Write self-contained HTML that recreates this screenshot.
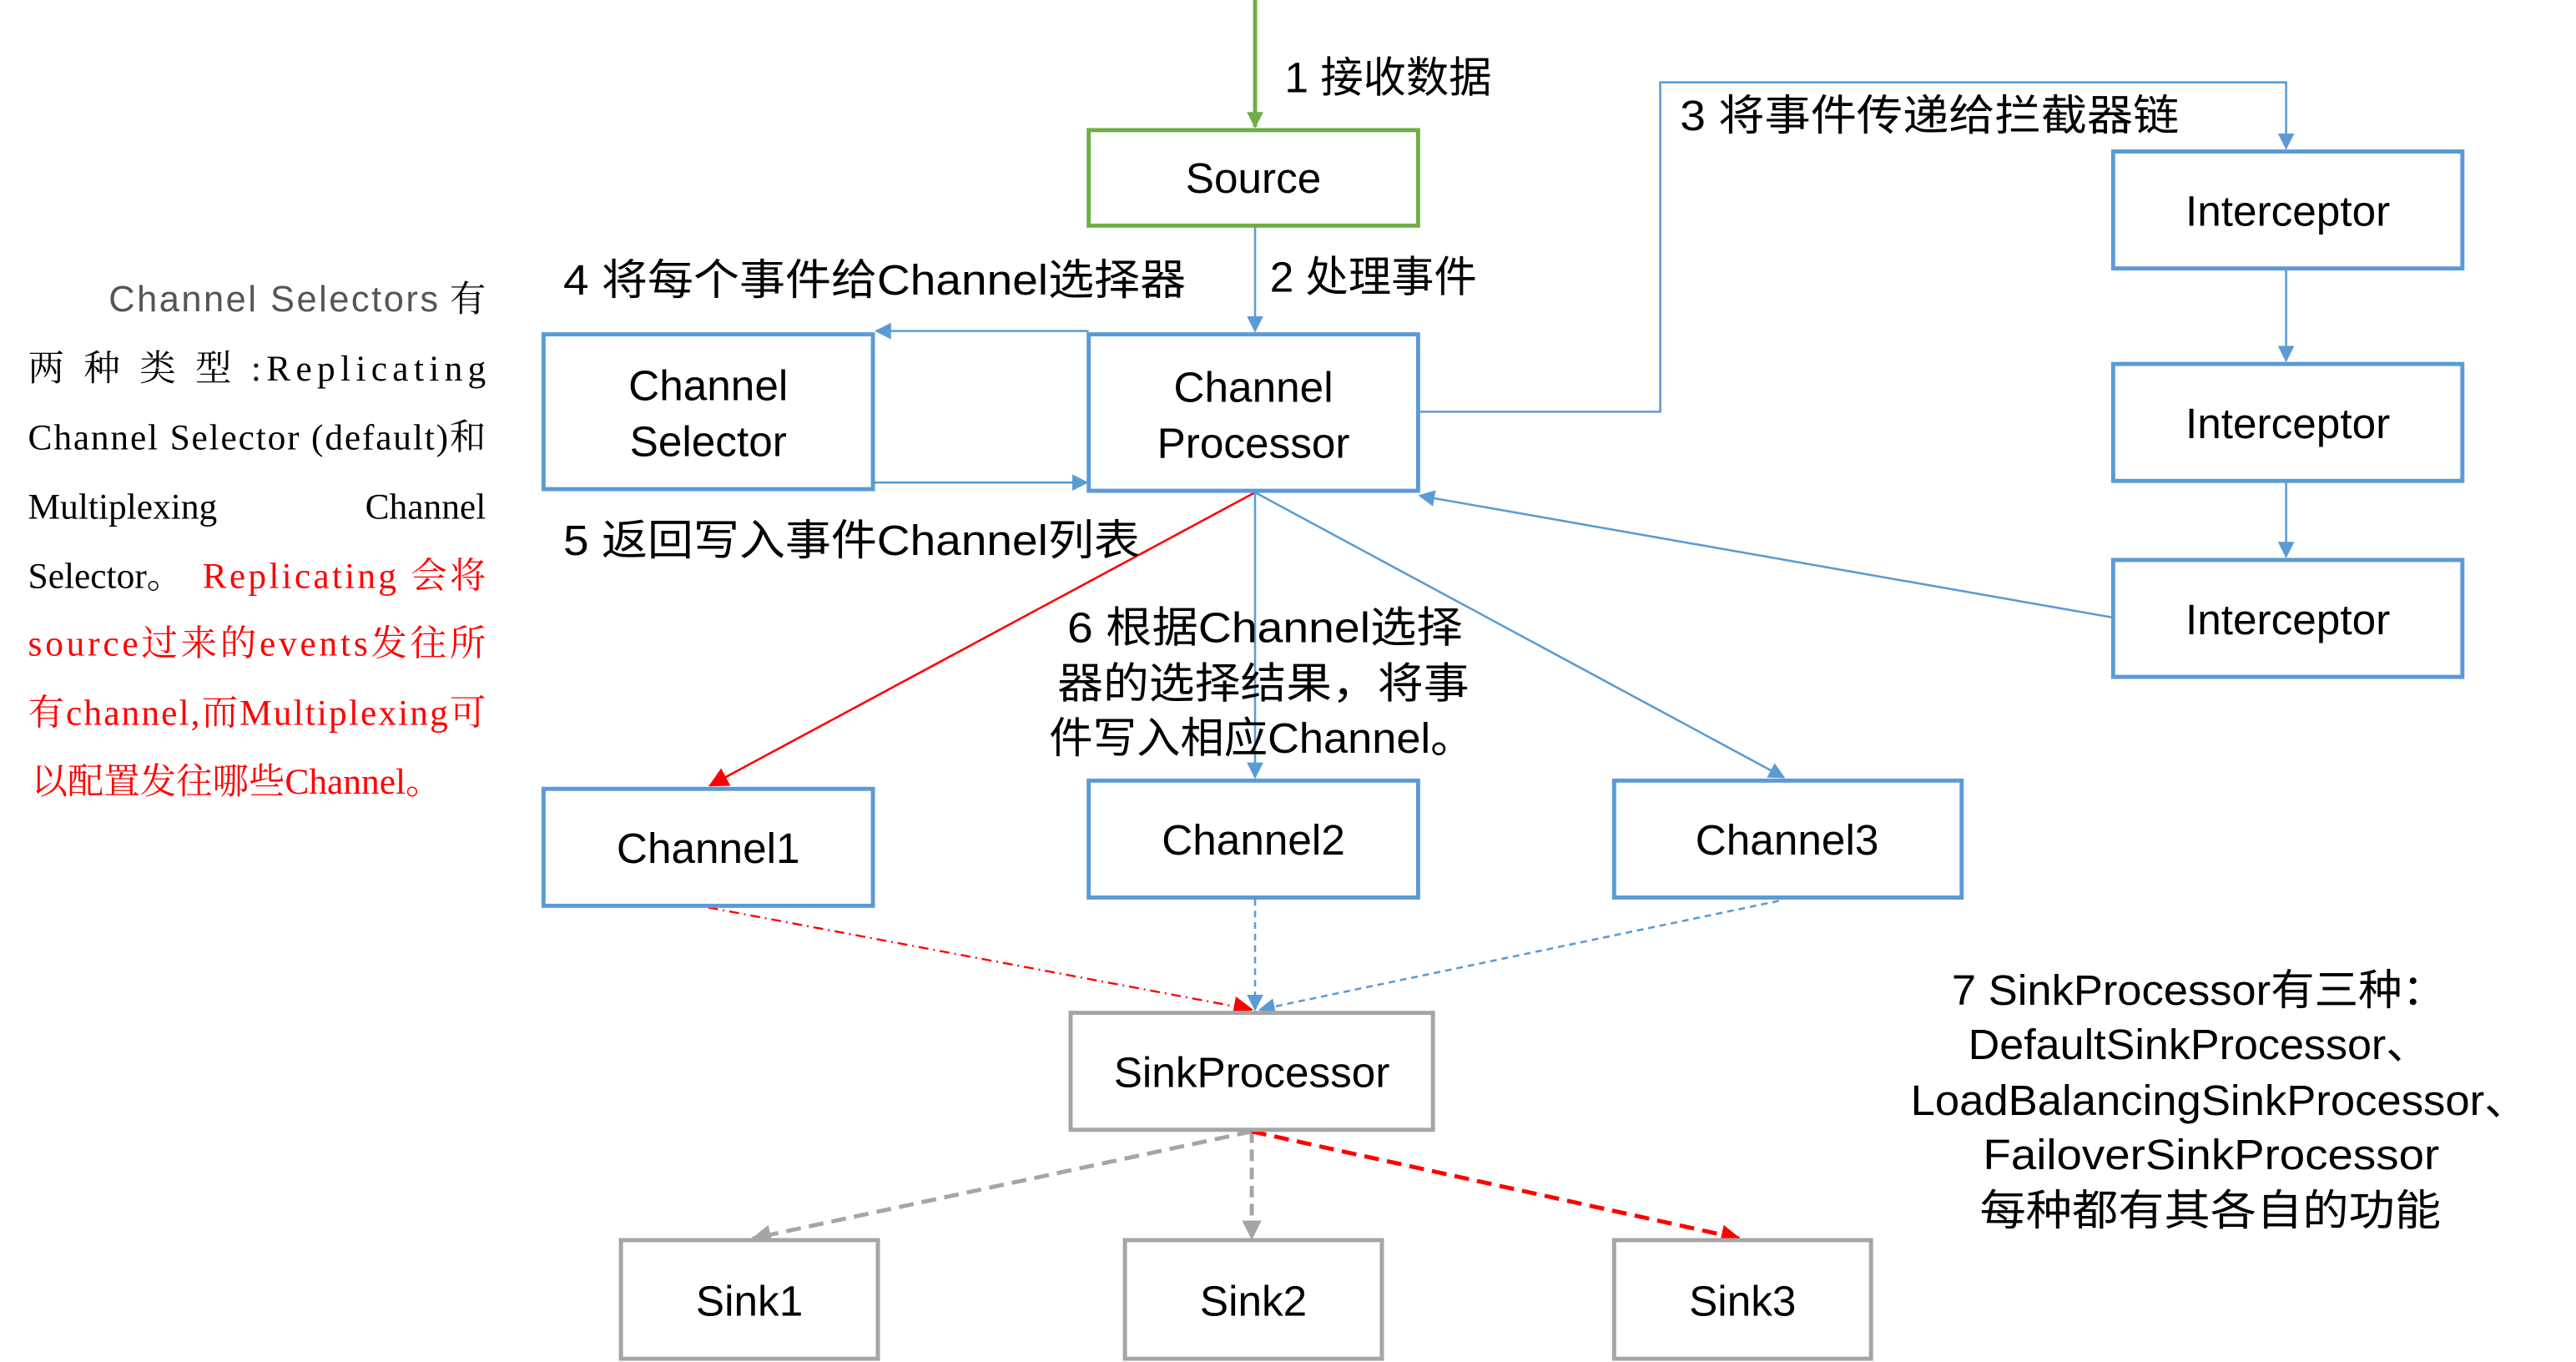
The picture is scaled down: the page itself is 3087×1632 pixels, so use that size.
<!DOCTYPE html>
<html><head><meta charset="utf-8"><style>
html,body{margin:0;padding:0;background:#fff;}
svg{display:block;}
text{font-family:"Liberation Sans","Noto Sans CJK SC",sans-serif;}
.s{font-family:"Liberation Serif","Noto Serif CJK SC",serif;font-size:22px;}
.b{fill:#fff;stroke:#5B9BD5;stroke-width:2.5;}
.g{fill:#fff;stroke:#A5A5A5;stroke-width:2.5;}
.lb{font-size:26px;fill:#000;}
</style></head><body>
<svg width="3087" height="1632" viewBox="0 0 1564 827" preserveAspectRatio="none" xmlns="http://www.w3.org/2000/svg">
<defs>
<marker id="ab" markerWidth="10" markerHeight="10" refX="9" refY="5" orient="auto" markerUnits="userSpaceOnUse"><path d="M0,0 L10,5 L0,10 z" fill="#5B9BD5"/></marker>
<marker id="ag" markerWidth="10" markerHeight="10" refX="9" refY="5" orient="auto" markerUnits="userSpaceOnUse"><path d="M0,0 L10,5 L0,10 z" fill="#70AD47"/></marker>
<marker id="ar" markerWidth="12" markerHeight="12" refX="11" refY="6" orient="auto" markerUnits="userSpaceOnUse"><path d="M0,0 L12,6 L0,12 z" fill="#FF0000"/></marker>
<marker id="ay" markerWidth="12" markerHeight="12" refX="11" refY="6" orient="auto" markerUnits="userSpaceOnUse"><path d="M0,0 L12,6 L0,12 z" fill="#A5A5A5"/></marker>
</defs>

<text x="66" y="189" font-size="22" fill="#555" textLength="200" lengthAdjust="spacing">Channel  Selectors</text>
<text x="273" y="189" class="s" fill="#000">有</text>
<text x="17" y="231" class="s" textLength="278" lengthAdjust="spacing">两 种 类 型 :Replicating</text>
<text x="17" y="273" class="s" textLength="278" lengthAdjust="spacing">Channel Selector (default)和</text>
<text x="17" y="315" class="s">Multiplexing</text>
<text x="295" y="315" class="s" text-anchor="end">Channel</text>
<text x="17" y="357" class="s">Selector。</text>
<text x="123" y="357" class="s" fill="#FF0000" textLength="172" lengthAdjust="spacing">Replicating 会将</text>
<text x="17" y="398" class="s" fill="#FF0000" textLength="278" lengthAdjust="spacing">source过来的events发往所</text>
<text x="17" y="440" class="s" fill="#FF0000" textLength="278" lengthAdjust="spacing">有channel,而Multiplexing可</text>
<text x="19" y="482" class="s" fill="#FF0000">以配置发往哪些Channel。</text>

<line x1="762" y1="0" x2="762" y2="77" stroke="#70AD47" stroke-width="2.5" marker-end="url(#ag)"/>
<line x1="762" y1="137" x2="762" y2="201" stroke="#5B9BD5" stroke-width="1.3" marker-end="url(#ab)"/>
<line x1="661" y1="201" x2="532" y2="201" stroke="#5B9BD5" stroke-width="1.3" marker-end="url(#ab)"/>
<line x1="530" y1="293" x2="660" y2="293" stroke="#5B9BD5" stroke-width="1.3" marker-end="url(#ab)"/>
<polyline points="861,250 1008,250 1008,50 1388,50 1388,90" fill="none" stroke="#5B9BD5" stroke-width="1.3" marker-end="url(#ab)"/>
<line x1="1388" y1="164" x2="1388" y2="219" stroke="#5B9BD5" stroke-width="1.3" marker-end="url(#ab)"/>
<line x1="1388" y1="293" x2="1388" y2="338" stroke="#5B9BD5" stroke-width="1.3" marker-end="url(#ab)"/>
<line x1="1283" y1="375" x2="862" y2="301" stroke="#5B9BD5" stroke-width="1.3" marker-end="url(#ab)"/>
<line x1="762" y1="299" x2="431" y2="477" stroke="#FF0000" stroke-width="1.3" marker-end="url(#ar)"/>
<line x1="762" y1="299" x2="762" y2="472" stroke="#5B9BD5" stroke-width="1.3" marker-end="url(#ab)"/>
<line x1="762" y1="299" x2="1083" y2="472" stroke="#5B9BD5" stroke-width="1.3" marker-end="url(#ab)"/>
<line x1="430" y1="551" x2="760" y2="613" stroke="#FF0000" stroke-width="1.2" stroke-dasharray="6,3,1,3" marker-end="url(#ar)"/>
<line x1="762" y1="546" x2="762" y2="613" stroke="#5B9BD5" stroke-width="1.3" stroke-dasharray="4,3" marker-end="url(#ab)"/>
<line x1="1080" y1="547" x2="765" y2="613" stroke="#5B9BD5" stroke-width="1.3" stroke-dasharray="4,3" marker-end="url(#ab)"/>
<line x1="760" y1="687" x2="457" y2="752" stroke="#A5A5A5" stroke-width="2.5" stroke-dasharray="9,5" marker-end="url(#ay)"/>
<line x1="760" y1="687" x2="760" y2="752" stroke="#A5A5A5" stroke-width="2.5" stroke-dasharray="7,4" marker-end="url(#ay)"/>
<line x1="760" y1="687" x2="1056" y2="752" stroke="#FF0000" stroke-width="2.5" stroke-dasharray="9,5" marker-end="url(#ar)"/>

<rect x="661" y="79" width="200" height="58" fill="#fff" stroke="#70AD47" stroke-width="2.5"/>
<text x="761" y="117" class="lb" text-anchor="middle">Source</text>
<rect x="330" y="203" width="200" height="94" class="b"/>
<text x="430" y="243" class="lb" text-anchor="middle">Channel</text>
<text x="430" y="277" class="lb" text-anchor="middle">Selector</text>
<rect x="661" y="203" width="200" height="95" class="b"/>
<text x="761" y="244" class="lb" text-anchor="middle">Channel</text>
<text x="761" y="278" class="lb" text-anchor="middle">Processor</text>
<rect x="1283" y="92" width="212" height="71" class="b"/>
<text x="1389" y="137" class="lb" text-anchor="middle">Interceptor</text>
<rect x="1283" y="221" width="212" height="71" class="b"/>
<text x="1389" y="266" class="lb" text-anchor="middle">Interceptor</text>
<rect x="1283" y="340" width="212" height="71" class="b"/>
<text x="1389" y="385" class="lb" text-anchor="middle">Interceptor</text>
<rect x="330" y="479" width="200" height="71" class="b"/>
<text x="430" y="524" class="lb" text-anchor="middle">Channel1</text>
<rect x="661" y="474" width="200" height="71" class="b"/>
<text x="761" y="519" class="lb" text-anchor="middle">Channel2</text>
<rect x="980" y="474" width="211" height="71" class="b"/>
<text x="1085" y="519" class="lb" text-anchor="middle">Channel3</text>
<rect x="650" y="615" width="220" height="71" class="g"/>
<text x="760" y="660" class="lb" text-anchor="middle">SinkProcessor</text>
<rect x="377" y="753" width="156" height="72" class="g"/>
<text x="455" y="799" class="lb" text-anchor="middle">Sink1</text>
<rect x="683" y="753" width="156" height="72" class="g"/>
<text x="761" y="799" class="lb" text-anchor="middle">Sink2</text>
<rect x="980" y="753" width="156" height="72" class="g"/>
<text x="1058" y="799" class="lb" text-anchor="middle">Sink3</text>

<text x="780" y="56" class="lb">1 接收数据</text>
<text x="771" y="177" class="lb">2 处理事件</text>
<text x="1020" y="79" class="lb" textLength="303" lengthAdjust="spacingAndGlyphs">3 将事件传递给拦截器链</text>
<text x="342" y="179" class="lb" textLength="378" lengthAdjust="spacingAndGlyphs">4 将每个事件给Channel选择器</text>
<text x="342" y="337" class="lb" textLength="350" lengthAdjust="spacingAndGlyphs">5 返回写入事件Channel列表</text>
<text x="648" y="390" class="lb" textLength="240" lengthAdjust="spacingAndGlyphs">6 根据Channel选择</text>
<text x="642" y="424" class="lb" textLength="250" lengthAdjust="spacingAndGlyphs">器的选择结果，将事</text>
<text x="637" y="457" class="lb" textLength="258" lengthAdjust="spacingAndGlyphs">件写入相应Channel。</text>
<text x="1185" y="610" class="lb" textLength="300" lengthAdjust="spacingAndGlyphs">7 SinkProcessor有三种：</text>
<text x="1195" y="643" class="lb" textLength="280" lengthAdjust="spacingAndGlyphs">DefaultSinkProcessor、</text>
<text x="1160" y="677" class="lb" textLength="375" lengthAdjust="spacingAndGlyphs">LoadBalancingSinkProcessor、</text>
<text x="1204" y="710" class="lb" textLength="277" lengthAdjust="spacingAndGlyphs">FailoverSinkProcessor</text>
<text x="1202" y="744" class="lb" textLength="280" lengthAdjust="spacingAndGlyphs">每种都有其各自的功能</text>
</svg>
</body></html>
